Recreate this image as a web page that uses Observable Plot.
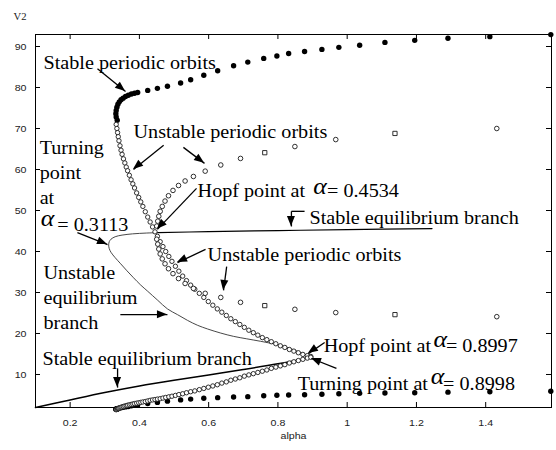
<!DOCTYPE html>
<html><head><meta charset="utf-8">
<script src="https://cdn.jsdelivr.net/npm/d3@7"></script>
<script src="https://cdn.jsdelivr.net/npm/@observablehq/plot@0.6"></script>
<style>
body{margin:0;background:#fff;}
#chart{width:556px;height:450px;}
</style></head><body><div id="chart"></div>
<script>
// ---- axis ticks ----
const xTicks = [0.2, 0.4, 0.6, 0.8, 1.0, 1.2, 1.4];
const xTickLabels = ["0.2", "0.4", "0.6", "0.8", "1", "1.2", "1.4"];
const yTicks = [10, 20, 30, 40, 50, 60, 70, 80, 90];
const xLabel = "alpha";
const yLabel = "V2";

// ---- stable periodic orbits (filled dots): alpha, max V2, min V2 ----
const stableAlpha = [0.336,0.333,0.332,0.333,0.335,0.338,0.342,0.347,0.353,0.360,0.368,0.377,0.386,0.395,0.424,0.452,0.481,0.519,0.548,0.586,0.626,0.672,0.713,0.759,0.797,0.831,0.877,0.927,0.976,1.036,1.109,1.195,1.291,1.412,1.588];
const stableMax = [72.0,72.8,73.6,74.4,75.2,75.9,76.5,77.0,77.4,77.8,78.1,78.4,78.6,78.8,79.3,79.8,80.3,81.1,81.9,83.0,84.1,85.3,86.2,87.1,87.7,88.3,88.8,89.3,89.8,90.3,91.0,91.5,92.0,92.4,92.9];
const stableMin = [1.5,1.5,1.55,1.6,1.65,1.7,1.8,1.9,2.0,2.1,2.2,2.35,2.5,2.6,2.9,3.2,3.5,3.8,4.0,4.2,4.35,4.5,4.6,4.8,4.95,5.0,5.05,5.2,5.3,5.4,5.5,5.55,5.7,5.8,5.9];

// ---- unstable periodic orbits from Hopf at 0.8997 to fold (dense open markers) ----
const u2Alpha = [0.333,0.335,0.337,0.339,0.341,0.344,0.347,0.350,0.354,0.358,0.362,0.366,0.371,0.376,0.381,0.386,0.392,0.398,0.404,0.410,0.417,0.424,0.431,0.438,0.445,0.452,0.460,0.468,0.476,0.485,0.494,0.504,0.514,0.525,0.536,0.548,0.560,0.573,0.586,0.599,0.612,0.625,0.638,0.651,0.664,0.677,0.690,0.703,0.716,0.729,0.742,0.755,0.768,0.781,0.794,0.807,0.820,0.833,0.846,0.859,0.872,0.885,0.895];
const u2Max = [71.0,70.0,69.0,68.0,67.0,65.8,64.7,63.7,62.6,61.6,60.6,59.7,58.6,57.5,56.5,55.5,54.3,53.2,52.1,51.0,49.7,48.4,47.2,46.0,44.8,43.7,42.4,41.2,40.0,38.8,37.6,36.4,35.2,34.0,32.9,31.8,30.8,29.8,28.8,27.8,26.9,26.0,25.2,24.4,23.6,22.9,22.2,21.5,20.8,20.2,19.6,19.0,18.5,18.0,17.5,17.0,16.6,16.1,15.7,15.3,14.9,14.6,14.4];
const u2Min = [1.4,1.5,1.6,1.7,1.8,1.9,2.0,2.1,2.2,2.3,2.4,2.5,2.6,2.7,2.8,2.9,3.0,3.1,3.2,3.3,3.4,3.55,3.7,3.8,3.9,4.0,4.1,4.25,4.4,4.55,4.7,4.9,5.1,5.3,5.55,5.8,6.0,6.3,6.6,6.9,7.2,7.5,7.9,8.2,8.6,8.9,9.2,9.6,9.9,10.2,10.5,10.8,11.1,11.5,11.8,12.1,12.4,12.8,13.1,13.4,13.7,14.0,14.2];

// ---- unstable periodic orbits from Hopf at 0.4534 (sparse open markers) ----
const u1Alpha = [0.450,0.453,0.456,0.460,0.466,0.474,0.484,0.497,0.513,0.532,0.556,0.590,0.635,0.692,0.762,0.849,0.967,1.138,1.432];
const u1Max = [46.2,47.4,48.6,49.8,51.0,52.3,53.6,54.9,56.1,57.2,58.3,59.6,61.1,62.7,64.1,65.6,67.3,68.8,70.0];
const u1Min = [43.0,41.8,40.6,39.4,38.2,37.0,35.8,34.6,33.4,32.2,31.0,29.8,28.8,27.6,26.8,25.9,25.1,24.6,24.1];
const u1Marker = ["circle","circle","circle","circle","circle","circle","circle","circle","circle","circle","circle","circle","circle","circle","square","circle","circle","square","circle"];

// ---- equilibrium branches ----
const eqLowAlpha = [0.1,0.2,0.3,0.4,0.5,0.6,0.7,0.8,0.8998];
const eqLowV = [1.95,3.8,5.6,7.2,8.6,9.9,11.2,12.6,14.2];
const eqUnstAlpha = [0.8998,0.87,0.84,0.808,0.78,0.75,0.71,0.672,0.635,0.597,0.568,0.539,0.51,0.481,0.453,0.424,0.404,0.383,0.364,0.346,0.33,0.318,0.313,0.3113,0.313,0.318,0.33,0.35,0.38,0.42,0.4534];
const eqUnstV = [14.2,15.2,16.2,17.1,17.6,18.1,18.7,19.3,20.1,21.1,22.0,23.2,24.6,26.0,28.1,30.3,31.8,33.6,35.3,37.0,38.5,39.8,40.7,41.6,42.4,43.0,43.6,44.0,44.3,44.5,44.6];
const eqHighAlpha = [0.4534,0.6,0.8,1.0,1.245];
const eqHighV = [44.6,44.85,45.1,45.35,45.6];

// ---- annotations (data coordinates) ----
const labels = [
  {text:"Stable periodic orbits", x:0.123, y:84.6},
  {text:"Unstable periodic orbits", x:0.383, y:67.6},
  {text:"Turning", x:0.112, y:63.9},
  {text:"point", x:0.112, y:57.8},
  {text:"at", x:0.112, y:51.7},
  {text:"= 0.3113", x:0.163, y:45.1},
  {text:"Hopf point at", x:0.568, y:53.2},
  {text:"= 0.4534", x:0.942, y:53.2},
  {text:"Stable equilibrium branch", x:0.891, y:46.8},
  {text:"Unstable periodic orbits", x:0.597, y:37.8},
  {text:"Unstable", x:0.123, y:33.2},
  {text:"equilibrium", x:0.123, y:27.1},
  {text:"branch", x:0.123, y:21.2},
  {text:"Stable equilibrium branch", x:0.120, y:12.2},
  {text:"Hopf point at", x:0.932, y:15.4},
  {text:"= 0.8997", x:1.285, y:15.4},
  {text:"Turning point at", x:0.857, y:6.3},
  {text:"= 0.8998", x:1.277, y:6.3}
];
const alphaSymbols = [
  {text:"α", x:0.1155, y:46.3},
  {text:"α", x:0.902, y:54.1},
  {text:"α", x:1.2495, y:16.6},
  {text:"α", x:1.241, y:7.6}
];
const arrows = [
  {x1:0.279, y1:84.6, x2:0.360, y2:79.0, head:true},
  {x1:0.470, y1:65.9, x2:0.383, y2:60.0, head:true},
  {x1:0.527, y1:65.4, x2:0.588, y2:61.5, head:true},
  {x1:0.221, y1:44.6, x2:0.308, y2:41.7, head:true},
  {x1:0.565, y1:55.4, x2:0.452, y2:45.4, head:true},
  {x1:0.877, y1:49.8, x2:0.839, y2:49.8, head:false},
  {x1:0.839, y1:49.8, x2:0.839, y2:46.1, head:true},
  {x1:0.591, y1:40.5, x2:0.510, y2:37.3, head:true},
  {x1:0.652, y1:36.3, x2:0.643, y2:30.5, head:true},
  {x1:0.345, y1:24.6, x2:0.481, y2:24.6, head:true},
  {x1:0.337, y1:11.5, x2:0.337, y2:6.8, head:true},
  {x1:0.935, y1:17.8, x2:0.888, y2:15.1, head:true},
  {x1:0.969, y1:11.5, x2:0.897, y2:13.9, head:true}
];

// ---- build tables ----
const stable = stableAlpha.map((a, i) => ({alpha: a, max: stableMax[i], min: stableMin[i]}));
const u2 = u2Alpha.map((a, i) => ({alpha: a, max: u2Max[i], min: u2Min[i]}));
const u1 = u1Alpha.map((a, i) => ({alpha: a, max: u1Max[i], min: u1Min[i], marker: u1Marker[i]}));
const eqLow = eqLowAlpha.map((a, i) => ({alpha: a, v: eqLowV[i]}));
const eqUnst = eqUnstAlpha.map((a, i) => ({alpha: a, v: eqUnstV[i]}));
const eqHigh = eqHighAlpha.map((a, i) => ({alpha: a, v: eqHighV[i]}));
const u1c = u1.filter(d => d.marker === "circle");
const u1s = u1.filter(d => d.marker === "square");

const W = 556, H = 450, mL = 35, mR = 5, mT = 34, mB = 43;
const fW = W - mL - mR, fH = H - mT - mB, tl = 5;
const serif = "Liberation Serif";
const sans = "Liberation Sans";
const openStyle = {fill: "#fff", stroke: "#1a1a1a", strokeWidth: 0.9};

const chart = Plot.plot({
  width: W, height: H,
  marginLeft: mL, marginRight: mR, marginTop: mT, marginBottom: mB,
  x: {domain: [0.1, 1.59]},
  y: {domain: [1.95, 92.93]},
  style: {fontFamily: sans, background: "#fff", overflow: "visible"},
  marks: [
    Plot.frame({stroke: "#000", strokeWidth: 1}),
    Plot.tickX(xTicks, {x: d => d, insetTop: fH - tl, stroke: "#000"}),
    Plot.tickX(xTicks, {x: d => d, insetBottom: fH - tl, stroke: "#000"}),
    Plot.tickY(yTicks, {y: d => d, insetRight: fW - tl, stroke: "#000"}),
    Plot.tickY(yTicks, {y: d => d, insetLeft: fW - tl, stroke: "#000"}),
    Plot.axisX({ticks: xTicks, tickFormat: (d, i) => xTickLabels[i], tickSize: 0, tickPadding: 12, fontSize: 9.5, fontFamily: sans, fill: "#222", label: null}),
    Plot.axisY({ticks: yTicks, tickSize: 0, tickPadding: 9, fontSize: 9.5, fontFamily: sans, fill: "#222", label: null}),
    Plot.text([xLabel], {text: d => d, frameAnchor: "bottom", dy: 31, fontSize: 9.5, fontFamily: sans, fill: "#222"}),
    Plot.text([yLabel], {text: d => d, frameAnchor: "top-left", dx: -22, dy: -21, fontSize: 9.5, fontFamily: serif, fill: "#222"}),
    // equilibrium branches
    Plot.line(eqLow, {x: "alpha", y: "v", stroke: "#000", strokeWidth: 1.5, curve: "catmull-rom"}),
    Plot.line(eqUnst, {x: "alpha", y: "v", stroke: "#333", strokeWidth: 0.9, curve: "catmull-rom"}),
    Plot.line(eqHigh, {x: "alpha", y: "v", stroke: "#000", strokeWidth: 1.2, curve: "catmull-rom"}),
    // stable periodic orbits
    Plot.dot(stable, {x: "alpha", y: "max", r: 2.7, fill: "#000"}),
    Plot.dot(stable, {x: "alpha", y: "min", r: 2.7, fill: "#000"}),
    // unstable periodic orbits
    Plot.dot(u2, {x: "alpha", y: "max", r: 2.2, ...openStyle}),
    Plot.dot(u2, {x: "alpha", y: "min", r: 2.2, ...openStyle}),
    Plot.dot(u1c, {x: "alpha", y: "max", r: 2.3, ...openStyle}),
    Plot.dot(u1c, {x: "alpha", y: "min", r: 2.3, ...openStyle}),
    Plot.dot(u1s, {x: "alpha", y: "max", r: 2.4, symbol: "square", ...openStyle}),
    Plot.dot(u1s, {x: "alpha", y: "min", r: 2.4, symbol: "square", ...openStyle}),
    // arrows
    Plot.link(arrows, {x1: "x1", y1: "y1", x2: "x2", y2: "y2", stroke: "#000", strokeWidth: 1.3}),
    // annotations
    Plot.text(labels, {x: "x", y: "y", text: "text", textAnchor: "start", lineAnchor: "bottom", fontSize: 18, fontFamily: serif, fill: "#000"}),
    Plot.text(alphaSymbols, {x: "x", y: "y", text: "text", textAnchor: "start", lineAnchor: "bottom", fontSize: 23, fontStyle: "italic", fontFamily: serif, fill: "#000"})
  ]
});

document.getElementById("chart").append(chart);

// horizontally stretch text to match reference proportions
d3.select(chart).selectAll("text").each(function() {
  const w = this.getComputedTextLength();
  if (w > 0) {
    this.setAttribute("textLength", (w * 1.12).toFixed(2));
    this.setAttribute("lengthAdjust", "spacingAndGlyphs");
  }
});

// filled arrowheads positioned through the plot's scales
const sx = chart.scale("x"), sy = chart.scale("y");
const headLen = 10, headW = 8;
const hg = d3.select(chart).append("g").attr("aria-label", "arrowheads");
for (const a of arrows) {
  if (!a.head) continue;
  const x1 = sx.apply(a.x1), y1 = sy.apply(a.y1), x2 = sx.apply(a.x2), y2 = sy.apply(a.y2);
  const dx = x2 - x1, dy = y2 - y1, L = Math.hypot(dx, dy), ux = dx / L, uy = dy / L;
  const bx = x2 - headLen * ux, by = y2 - headLen * uy;
  const pts = [[x2, y2], [bx - headW / 2 * uy, by + headW / 2 * ux], [bx + headW / 2 * uy, by - headW / 2 * ux]];
  hg.append("polygon").attr("points", pts.map(p => p.join(",")).join(" ")).attr("fill", "#000");
}
</script></body></html>
